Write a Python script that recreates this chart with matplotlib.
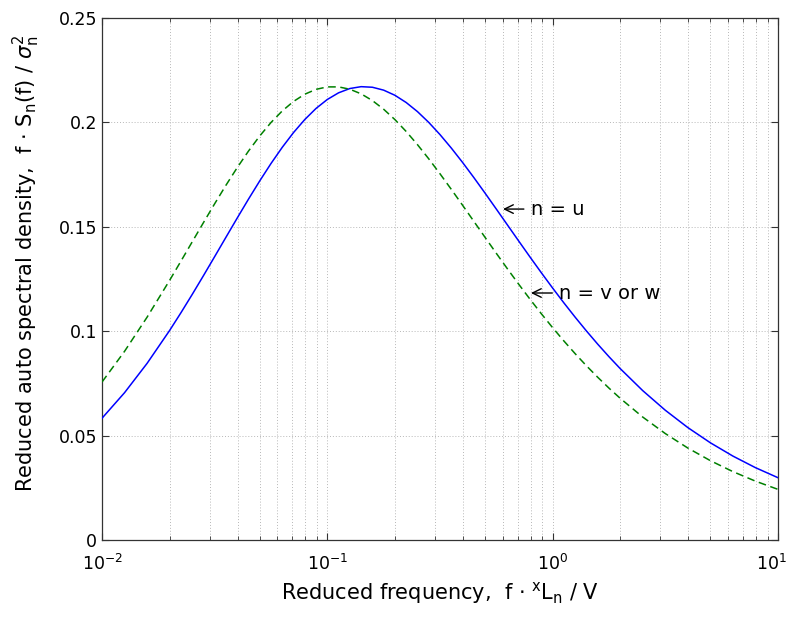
import matplotlib
matplotlib.use("Agg")
import matplotlib.pyplot as plt
import matplotlib.transforms as mtransforms
from matplotlib.ticker import LogLocator, NullFormatter

plt.rcParams['font.family'] = ['DejaVu Sans']
plt.rcParams['mathtext.fontset'] = 'dejavusans'

# Reduced frequency readings (log-spaced)
freq = [0.01, 0.012589, 0.015849, 0.019953, 0.022387, 0.025119, 0.028184, 0.031623,
        0.035481, 0.039811, 0.044668, 0.050119, 0.056234, 0.063096, 0.070795, 0.079433,
        0.089125, 0.1, 0.1122, 0.12589, 0.14125, 0.15849, 0.17783, 0.19953,
        0.22387, 0.25119, 0.28184, 0.31623, 0.35481, 0.39811, 0.44668, 0.50119,
        0.56234, 0.63096, 0.70795, 0.79433, 0.89125, 1.0, 1.122, 1.2589,
        1.4125, 1.5849, 1.7783, 1.9953, 2.5119, 3.1623, 3.9811, 5.0119,
        6.3096, 7.9433, 10.0]

# n = u (solid blue)
s_u = [0.05833, 0.07056, 0.08460, 0.10035, 0.10880, 0.11756, 0.12657, 0.13574,
       0.14499, 0.15419, 0.16324, 0.17199, 0.18032, 0.18808, 0.19515, 0.20139,
       0.20671, 0.21099, 0.21418, 0.21623, 0.21712, 0.21684, 0.21545, 0.21299,
       0.20953, 0.20518, 0.20002, 0.19417, 0.18775, 0.18087, 0.17363, 0.16614,
       0.15850, 0.15079, 0.14310, 0.13547, 0.12798, 0.12066, 0.11356, 0.10671,
       0.10012, 0.09381, 0.08780, 0.08208, 0.07153, 0.06215, 0.05385, 0.04657,
       0.04020, 0.03466, 0.02985]

# n = v or w (dashed green)
s_vw = [0.07567, 0.09037, 0.10672, 0.12436, 0.13351, 0.14274, 0.15197, 0.16106,
        0.16990, 0.17834, 0.18626, 0.19351, 0.19996, 0.20551, 0.21005, 0.21351,
        0.21584, 0.21701, 0.21701, 0.21589, 0.21368, 0.21046, 0.20631, 0.20134,
        0.19565, 0.18936, 0.18258, 0.17541, 0.16798, 0.16037, 0.15267, 0.14496,
        0.13731, 0.12978, 0.12242, 0.11526, 0.10835, 0.10169, 0.09532, 0.08923,
        0.08344, 0.07795, 0.07275, 0.06785, 0.05888, 0.05098, 0.04405, 0.03801,
        0.03276, 0.02820, 0.02426]

yticks = [0, 0.05, 0.1, 0.15, 0.2, 0.25]
ytick_labels = ['0', '0.05', '0.1', '0.15', '0.2', '0.25']

label_u = 'n = u'
label_vw = 'n = v or w'

fig = plt.figure(figsize=(7.89, 6.19), dpi=100)
ax = fig.add_axes([0.1293, 0.1276, 0.8567, 0.8433])

ax.semilogx(freq, s_u, color=(0, 0, 1), lw=1.1, zorder=3, solid_joinstyle='round')
ax.semilogx(freq, s_vw, color=(0, 0.5, 0), lw=1.1, ls=(0, (5, 3)), zorder=3)

ax.set_xlim(0.01, 10)
ax.set_ylim(0, 0.25)
ax.set_yticks(yticks)
ax.set_yticklabels(ytick_labels)
ax.xaxis.set_major_locator(LogLocator(base=10, numticks=10))
ax.xaxis.set_minor_locator(LogLocator(base=10, subs=range(2, 10), numticks=20))
ax.xaxis.set_minor_formatter(NullFormatter())

grid_kw = dict(color='#b8b8b8', ls=(0, (1, 2)), lw=0.7)
ax.grid(True, which='major', axis='both', **grid_kw)
ax.grid(True, which='minor', axis='x', **grid_kw)

ax.tick_params(which='both', direction='in', top=True, right=True, labelsize=12.5,
               color='#333333')
ax.tick_params(axis='x', which='major', pad=10)
ax.tick_params(axis='y', which='major', pad=3.5)
ax.tick_params(which='major', length=5)
ax.tick_params(which='minor', length=3)
for sp in ax.spines.values():
    sp.set_linewidth(0.9)
    sp.set_color('#333333')

fig.text(440 / 789, 1 - 593 / 619,
         r'Reduced frequency,  f $\cdot$ $^{\mathrm{x}}$L$_{\mathrm{n}}$ / V',
         fontsize=15, ha='center', va='center')
fig.text(26 / 789, 1 - 263 / 619,
         r'Reduced auto spectral density,  f $\cdot$ S$_{\mathrm{n}}$(f) / $\sigma_{\mathrm{n}}^{2}$',
         fontsize=15, ha='center', va='center', rotation=90)

arrow_kw = dict(arrowstyle='->,head_length=0.45,head_width=0.22', lw=1.0,
                color='black', shrinkA=3, shrinkB=0)
ax.annotate(label_u, xy=(0.602, 0.1585), xytext=(0.80, 0.1585), fontsize=14,
            va='center', ha='left', arrowprops=arrow_kw)
ax.annotate(label_vw, xy=(0.801, 0.1183), xytext=(1.07, 0.1183), fontsize=14,
            va='center', ha='left', arrowprops=arrow_kw)

# keep the right-most decade label inside the canvas
fig.canvas.draw()
shift = mtransforms.ScaledTranslation(-5 / 72, 0, fig.dpi_scale_trans)
for tick in ax.xaxis.get_major_ticks():
    if abs(tick.get_loc() - 10) < 1e-9:
        tick.label1.set_transform(tick.label1.get_transform() + shift)

fig.savefig('out.png', dpi=100)
